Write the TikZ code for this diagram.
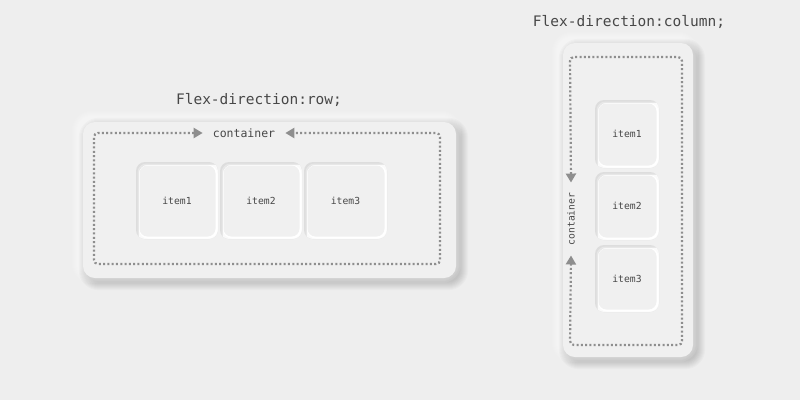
\documentclass[tikz,border=0pt]{standalone}
\usepackage{fontspec}
\setmonofont{DejaVu Sans Mono}
\usepackage{tikz}
\usetikzlibrary{arrows.meta,positioning,backgrounds}

\definecolor{bgcol}{HTML}{EEEEEE}
\definecolor{cardcol}{HTML}{F0F0F0}
\definecolor{insetcol}{HTML}{DDDDDD}
\definecolor{dotcol}{HTML}{8E8E8E}
\definecolor{txtcol}{HTML}{474747}

\tikzset{
  card/.style = {draw=none, fill=cardcol, rounded corners=12pt, inner sep=0pt},
  itembox/.style = {draw=none, fill=cardcol, rounded corners=9pt, inner sep=0pt,
    font=\ttfamily\fontsize{9.7}{11}\selectfont, text=txtcol,
    path picture={
      \fill[insetcol] (path picture bounding box.north west) rectangle (path picture bounding box.south east);
      \fill[insetcol!50!cardcol, rounded corners=9pt] ([shift={(1.5,1.5)}]path picture bounding box.north west) rectangle ([shift={(8,8)}]path picture bounding box.south east);
      \fill[white!70!cardcol, rounded corners=9pt] ([shift={(3,3)}]path picture bounding box.north west) rectangle ([shift={(8,8)}]path picture bounding box.south east);
      \fill[white, rounded corners=9pt] ([shift={(3,3)}]path picture bounding box.north west) rectangle ([shift={(-0.5,-0.5)}]path picture bounding box.south east);
      \fill[cardcol, rounded corners=8pt] ([shift={(3.5,3.5)}]path picture bounding box.north west) rectangle ([shift={(-2.5,-2.5)}]path picture bounding box.south east);
    }},
  title/.style = {font=\ttfamily\fontsize{14.5}{16}\selectfont, text=txtcol, inner sep=0pt},
  boxlabel/.style = {font=\ttfamily, text=txtcol, inner ysep=0pt, inner xsep=10pt, fill=cardcol},
  dotline/.style = {dotcol, line width=2.2pt, dash pattern=on 2pt off 2.3pt,
    rounded corners=4pt, {Triangle[length=9pt,width=10pt]}-{Triangle[length=9pt,width=10pt]}}
}

\begin{document}
\begin{tikzpicture}[x=1pt, y=-1pt]
  \useasboundingbox (0,0) rectangle (800,400);

  % row layout
  \node[title] (rowtitle) at (259,100) {Flex-direction:row;};
  \node[card, minimum width=373pt, minimum height=156pt] (rowcard) at (269.5,200) {};
  \node[boxlabel, font=\ttfamily\fontsize{11.5}{13}\selectfont] (rowlabel) at (244,133) {container};
  \node[itembox, minimum width=82pt, minimum height=77pt] (ritem1) at (177,200.5) {item1};
  \node[itembox, minimum width=82pt, minimum height=77pt] (ritem2) at (261,200.5) {item2};
  \node[itembox, minimum width=83pt, minimum height=77pt] (ritem3) at (345.5,200.5) {item3};
  \coordinate (rnw) at (94,133);
  \coordinate (rsw) at (94,264);
  \coordinate (rse) at (440,264);
  \coordinate (rne) at (440,133);
  \draw[dotline] (rowlabel.west) -- (rnw) -- (rsw) -- (rse) -- (rne) -- (rowlabel.east);

  % column layout
  \node[title] (coltitle) at (629,22) {Flex-direction:column;};
  \node[card, minimum width=130pt, minimum height=314pt] (colcard) at (628,200) {};
  \node[boxlabel, rotate=90, font=\ttfamily\fontsize{9.7}{11}\selectfont] (collabel) at (571,219) {container};
  \node[itembox, minimum width=64pt, minimum height=68pt] (citem1) at (627,134) {item1};
  \node[itembox, minimum width=64pt, minimum height=68pt] (citem2) at (627,206) {item2};
  \node[itembox, minimum width=64pt, minimum height=67pt] (citem3) at (627,278.5) {item3};
  \coordinate (cnw) at (570,57);
  \coordinate (cne) at (682,57);
  \coordinate (cse) at (682,345);
  \coordinate (csw) at (570,345);
  \draw[dotline] (collabel.east) -- (cnw) -- (cne) -- (cse) -- (csw) -- (collabel.west);

  % soft shadows behind the cards
  \begin{scope}[on background layer]
    \fill[bgcol] (0,0) rectangle (800,400);
    \foreach \c in {rowcard,colcard}{
      \foreach \i in {0,...,8}{
        \fill[white, opacity=0.09, rounded corners=12pt+\i pt]
          ([shift={(-3-\i,-3-\i)}]\c.north west) rectangle ([shift={(-3+\i,-3+\i)}]\c.south east);
        \fill[black, opacity=0.02, rounded corners=12pt+\i pt]
          ([shift={(4-\i,4-\i)}]\c.north west) rectangle ([shift={(4+\i,4+\i)}]\c.south east);
      }
    }
  \end{scope}
\end{tikzpicture}
\end{document}
